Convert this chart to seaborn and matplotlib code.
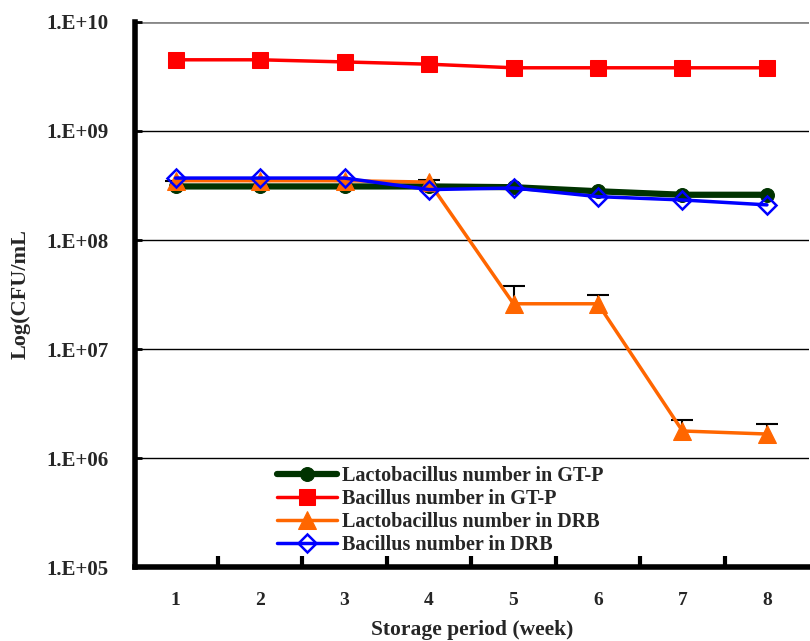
import numpy as np
import pandas as pd
import matplotlib
matplotlib.use("Agg")
import matplotlib.pyplot as plt
from matplotlib.ticker import FixedLocator, FuncFormatter, NullFormatter
import seaborn as sns

weeks = [1, 2, 3, 4, 5, 6, 7, 8]
lacto_gtp = [3.1e8, 3.1e8, 3.1e8, 3.1e8, 3.05e8, 2.8e8, 2.6e8, 2.6e8]
bacillus_gtp = [4.5e9, 4.5e9, 4.3e9, 4.1e9, 3.8e9, 3.8e9, 3.8e9, 3.8e9]
lacto_drb = [3.5e8, 3.5e8, 3.5e8, 3.4e8, 2.6e7, 2.6e7, 1.77e6, 1.66e6]
bacillus_drb = [3.7e8, 3.7e8, 3.7e8, 2.9e8, 3.0e8, 2.5e8, 2.33e8, 2.1e8]
lacto_drb_err = [0, 0, 0, 1.5e7, 1.2e7, 0.5e7, 0.46e6, 0.4e6]

labels = ["Lactobacillus number in GT-P", "Bacillus number in GT-P",
          "Lactobacillus number in DRB", "Bacillus number in DRB"]
y_ticks = [1e5, 1e6, 1e7, 1e8, 1e9, 1e10]
x_label = "Storage period (week)"
y_label = "Log(CFU/mL"

sns.set_theme(style="white")
plt.rcParams['font.family'] = ['Liberation Serif', 'DejaVu Serif']
plt.rcParams['font.weight'] = 'bold'

fig = plt.figure(figsize=(8.1, 6.41), dpi=100)
ax = fig.add_axes([0.1667, 0.1154, 0.8323, 0.8503])

series = [
    (lacto_gtp, labels[0], "#003300", 4.5, dict(marker="o", markersize=10)),
    (bacillus_gtp, labels[1], "#FF0000", 2.5, dict(marker="s", markersize=11)),
    (lacto_drb, labels[2], "#FF6600", 2.5, dict(marker="^", markersize=13)),
    (bacillus_drb, labels[3], "#0000FF", 2.5, dict(marker="D", markersize=9,
                                                     markerfacecolor="none",
                                                     markeredgewidth=1.8)),
]

# error bars (upper only) for Lactobacillus in DRB, drawn beneath markers
err = np.array(lacto_drb_err)
eb = ax.errorbar(weeks, lacto_drb, yerr=[np.zeros_like(err), err], fmt="none",
                 ecolor="black", elinewidth=1.5, capsize=8, capthick=1.5, zorder=2)
caps = eb[1]
if len(caps) == 2:
    caps[0].set_visible(False)

for i, (vals, lab, col, lw, mk) in enumerate(series):
    df = pd.DataFrame({"week": weeks, "value": vals})
    kw = dict(mk)
    kw.setdefault("markeredgecolor", col)
    sns.lineplot(data=df, x="week", y="value", ax=ax, color=col, linewidth=lw,
                 label=lab, zorder=3 + i, **kw)

ax.set_yscale("log")
ax.set_ylim(1e5, 1e10)
ax.set_xlim(0.52, 8.5)

ax.yaxis.set_major_locator(FixedLocator(y_ticks))
ax.yaxis.set_minor_locator(FixedLocator([]))
ax.yaxis.set_major_formatter(FuncFormatter(lambda v, p: "1.E+%02d" % int(round(np.log10(v)))))
ax.set_xticks(weeks)
ax.set_xticks([w + 0.5 for w in weeks[:-1]], minor=True)
ax.xaxis.set_minor_formatter(NullFormatter())

ax.tick_params(axis="x", which="major", length=0, pad=18, labelsize=14)
ax.tick_params(axis="x", which="minor", direction="in", length=8, width=3, color="black", bottom=True)
ax.tick_params(axis="y", which="major", direction="in", length=5, width=2, color="black",
               left=True, pad=19, labelsize=15)
for t in ax.get_xticklabels() + ax.get_yticklabels():
    t.set_fontweight("bold")

ax.grid(axis="y", color="black", linewidth=1.0)
ax.grid(axis="x", visible=False)
gls = ax.yaxis.get_gridlines()
gls[-1].set_color("#888888")
gls[-1].set_linewidth(2)

for s in ["top", "right"]:
    ax.spines[s].set_visible(False)
for s in ["left", "bottom"]:
    ax.spines[s].set_color("black")
    ax.spines[s].set_linewidth(4)
ax.set_axisbelow(True)

ax.set_xlabel(x_label, fontsize=15.5, fontweight="bold")
ax.set_ylabel(y_label, fontsize=16, fontweight="bold")
ax.yaxis.set_label_coords(-0.155, 0.5)
ax.xaxis.set_label_coords(0.5, -0.097)

leg = ax.legend(loc="upper left", bbox_to_anchor=(0.21, 0.185), frameon=False,
                fontsize=14.5, handlelength=3.0, handletextpad=0.25, labelspacing=0.14,
                borderpad=0, borderaxespad=0)
for t in leg.get_texts():
    t.set_fontweight("bold")

fig.savefig("out.png", dpi=100)
